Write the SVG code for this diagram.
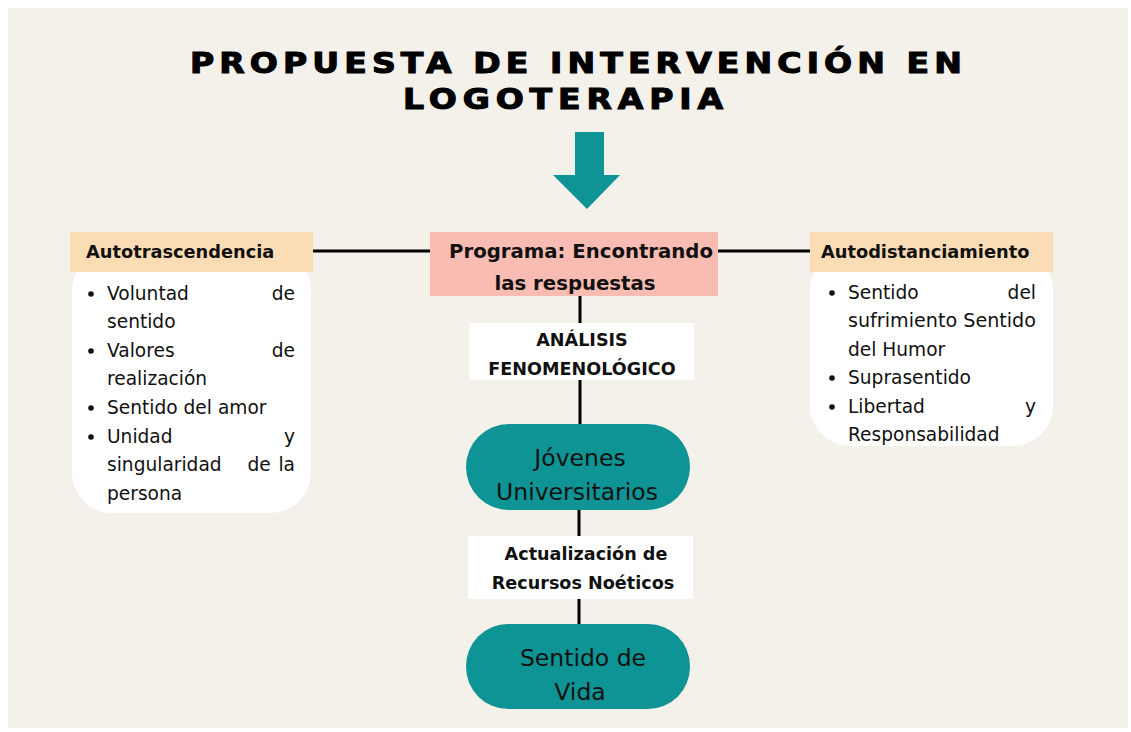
<svg xmlns="http://www.w3.org/2000/svg" width="1131" height="732" viewBox="0 0 1131 732">
<style>
.title{font-family:"DejaVu Sans",sans-serif;font-weight:bold;font-size:28px;fill:#000;stroke:#000;stroke-width:1.1}
.hdr{font-family:"DejaVu Sans",sans-serif;font-weight:bold;font-size:17.8px;fill:#111}
.item{font-family:"DejaVu Sans",sans-serif;font-size:18.6px;fill:#111}
.lbl{font-family:"DejaVu Sans",sans-serif;font-weight:700;font-size:17.6px;fill:#111;text-anchor:middle}
.prog{font-family:"DejaVu Sans",sans-serif;font-weight:bold;font-size:19.7px;fill:#111;text-anchor:middle}
.pill{font-family:"DejaVu Sans",sans-serif;font-size:23.5px;fill:#111;text-anchor:middle}
.ln{stroke:#000;stroke-width:3;fill:none}
.end{text-anchor:end}
.mid{text-anchor:middle}
</style>
<rect x="0" y="0" width="1131" height="732" fill="#ffffff"/>
<rect x="8" y="8" width="1120" height="720" fill="#F4F0EA"/>
<g id="title" transform="scale(1.18,1)">
<text class="title" x="161.0" y="73" textLength="654.2" lengthAdjust="spacing">PROPUESTA DE INTERVENCIÓN EN</text>
<text class="title" x="341.5" y="109" textLength="271.2" lengthAdjust="spacing">LOGOTERAPIA</text>
</g>
<g id="arrow">
<polygon points="575,132 604,132 604,175 620,175 587,209 553,175 575,175" fill="#0E9494"/>
</g>
<g id="connectors">
<line class="ln" x1="313" y1="251" x2="430" y2="251"/>
<line class="ln" x1="718" y1="251" x2="810" y2="251"/>
<line class="ln" x1="580" y1="296" x2="580" y2="424"/>
<line class="ln" x1="579" y1="510" x2="579" y2="624"/>
</g>
<g id="programa">
<rect x="430" y="232" width="288" height="64" fill="#F8BCB2"/>
<text class="prog" x="581" y="258">Programa: Encontrando</text>
<text class="prog" x="575" y="290">las respuestas</text>
</g>
<g id="autotrascendencia">
<rect x="72" y="250" width="239" height="263" rx="40" fill="#ffffff"/>
<rect x="70" y="232" width="243" height="40" fill="#FADDB5"/>
<text class="hdr" x="86" y="258">Autotrascendencia</text>
<circle cx="91" cy="294" r="2.8" fill="#111"/>
<text class="item" x="107" y="300">Voluntad</text><text class="item end" x="295" y="300">de</text>
<text class="item" x="107" y="328">sentido</text>
<circle cx="91" cy="351" r="2.8" fill="#111"/>
<text class="item" x="107" y="357">Valores</text><text class="item end" x="295" y="357">de</text>
<text class="item" x="107" y="385">realización</text>
<circle cx="91" cy="408" r="2.8" fill="#111"/>
<text class="item" x="107" y="414">Sentido del amor</text>
<circle cx="91" cy="437" r="2.8" fill="#111"/>
<text class="item" x="107" y="443">Unidad</text><text class="item end" x="295" y="443">y</text>
<text class="item" x="107" y="471">singularidad</text><text class="item mid" x="259" y="471">de</text><text class="item end" x="295" y="471">la</text>
<text class="item" x="107" y="500">persona</text>
</g>
<g id="autodistanciamiento">
<rect x="810" y="250" width="243" height="196" rx="40" fill="#ffffff"/>
<rect x="810" y="232" width="243" height="40" fill="#FADDB5"/>
<text class="hdr" x="821" y="258">Autodistanciamiento</text>
<circle cx="832" cy="293" r="2.8" fill="#111"/>
<text class="item" x="848" y="299">Sentido</text><text class="item end" x="1036" y="299">del</text>
<text class="item" x="848" y="327" textLength="188" lengthAdjust="spacingAndGlyphs">sufrimiento Sentido</text>
<text class="item" x="848" y="356">del Humor</text>
<circle cx="832" cy="378" r="2.8" fill="#111"/>
<text class="item" x="848" y="384">Suprasentido</text>
<circle cx="832" cy="407" r="2.8" fill="#111"/>
<text class="item" x="848" y="413">Libertad</text><text class="item end" x="1036" y="413">y</text>
<text class="item" x="848" y="441">Responsabilidad</text>
</g>
<g id="analisis">
<rect x="469" y="323" width="225" height="57" fill="#ffffff"/>
<text class="lbl" x="582" y="346">ANÁLISIS</text>
<text class="lbl" x="582" y="375">FENOMENOLÓGICO</text>
</g>
<g id="jovenes">
<rect x="466" y="424" width="224" height="86" rx="43" fill="#0E9494"/>
<text class="pill" x="580" y="466">Jóvenes</text>
<text class="pill" x="577" y="500">Universitarios</text>
</g>
<g id="actualizacion">
<rect x="468" y="536" width="225" height="63" fill="#ffffff"/>
<text class="lbl" x="586" y="560">Actualización de</text>
<text class="lbl" x="583" y="589">Recursos Noéticos</text>
</g>
<g id="sentido">
<rect x="466" y="624" width="224" height="85" rx="42" fill="#0E9494"/>
<text class="pill" x="583" y="666">Sentido de</text>
<text class="pill" x="580" y="700">Vida</text>
</g>
</svg>
